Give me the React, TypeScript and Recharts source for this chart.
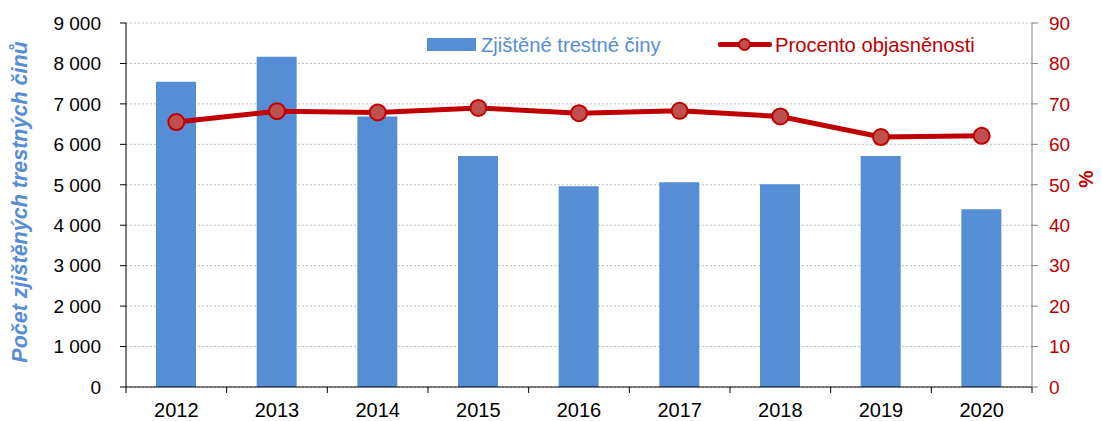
import React from 'react';
import { ComposedChart, Bar, Line, XAxis, YAxis, CartesianGrid } from 'recharts';

const years = ['2012', '2013', '2014', '2015', '2016', '2017', '2018', '2019', '2020'];
const crimes = [7550, 8165, 6690, 5710, 4965, 5060, 5010, 5710, 4395];
const clearance = [65.5, 68.2, 67.9, 69.0, 67.7, 68.3, 66.9, 61.8, 62.1];
const leftTicks = [0, 1000, 2000, 3000, 4000, 5000, 6000, 7000, 8000, 9000];
const rightTicks = [0, 10, 20, 30, 40, 50, 60, 70, 80, 90];
const barName = 'Zjištěné trestné činy';
const lineName = 'Procento objasněnosti';
const leftLabel = 'Počet zjištěných trestných činů';
const rightLabel = '%';

const data = years.map((y, i) => ({ year: y, crimes: crimes[i], pct: clearance[i] }));

const W = 1094;
const H = 413;
const LEFT_W = 118;
const RIGHT_W = 70;
const FONT = '"Liberation Sans", Arial, sans-serif';
const BLUE = '#558ED5';
const RED = '#C00000';
const half = (W - LEFT_W - RIGHT_W) / years.length / 2;

const fmt = (v: number) => (v === 0 ? '0' : `${Math.floor(v / 1000)} ${String(v % 1000).padStart(3, '0')}`);

const XTick = (props: any) => {
  const { x, y, payload, index } = props;
  const axisY = y - 16;
  return (
    <g>
      <line x1={x - half} x2={x - half} y1={axisY} y2={axisY + 6} stroke="#000" />
      {index === years.length - 1 && (
        <line x1={x + half} x2={x + half} y1={axisY} y2={axisY + 6} stroke="#000" />
      )}
      <text x={x} y={y} dy="0.71em" textAnchor="middle" fontSize={20} fontFamily={FONT} fill="#000">
        {payload.value}
      </text>
    </g>
  );
};

const LegendOverlay = () => (
  <div style={{ position: 'absolute', left: 0, top: 0, width: W, height: 60, fontFamily: FONT, fontSize: 20.2, pointerEvents: 'none' }}>
    <div style={{ position: 'absolute', left: 419, top: 30, width: 49, height: 13, background: BLUE }} />
    <div style={{ position: 'absolute', left: 473, top: 25, color: BLUE, whiteSpace: 'nowrap', lineHeight: '24px' }}>{barName}</div>
    <div style={{ position: 'absolute', left: 710, top: 34, width: 54, height: 5, background: RED, borderRadius: 2 }} />
    <div style={{ position: 'absolute', left: 730, top: 30, width: 13, height: 13, borderRadius: 8, background: '#C0504D', border: `2px solid ${RED}`, boxSizing: 'border-box' }} />
    <div style={{ position: 'absolute', left: 767, top: 25, color: RED, whiteSpace: 'nowrap', lineHeight: '24px' }}>{lineName}</div>
  </div>
);

const LeftLabel = (props: any) => {
  const { viewBox } = props;
  const cx = viewBox.x + 12;
  const cy = viewBox.y + viewBox.height / 2 - 3;
  return (
    <text x={cx} y={cy} transform={`rotate(-90 ${cx} ${cy})`} textAnchor="middle" dominantBaseline="central"
      fontSize={21.5} fontWeight="bold" fontStyle="italic" fontFamily={FONT} fill={BLUE}>
      {leftLabel}
    </text>
  );
};

const RightLabel = (props: any) => {
  const { viewBox } = props;
  const cx = viewBox.x + 54;
  const cy = viewBox.y + viewBox.height / 2 - 26;
  return (
    <text x={cx} y={cy} transform={`rotate(-90 ${cx} ${cy})`} textAnchor="middle" dominantBaseline="central"
      fontSize={19.5} fontWeight="bold" fontFamily={FONT} fill={RED}>
      {rightLabel}
    </text>
  );
};

export default function App() {
  return (
    <div style={{ position: 'relative', width: W, height: H }}>
      <ComposedChart width={W} height={H} data={data} margin={{ top: 15, right: 0, bottom: 0, left: 0 }} barCategoryGap="60%">
        <CartesianGrid horizontal vertical={false} stroke="#BFBFBF" strokeDasharray="2 2" yAxisId="left" />
        <XAxis dataKey="year" height={34} axisLine={{ stroke: '#000' }} tickLine={false} tick={<XTick />} tickMargin={10} interval={0} />
        <YAxis yAxisId="left" domain={[0, 9000]} ticks={leftTicks} width={LEFT_W} tickFormatter={fmt}
          axisLine={{ stroke: '#000' }} tickLine={{ stroke: '#000' }} tickSize={6} tickMargin={19}
          tick={{ fontSize: 19, fill: '#000', fontFamily: FONT }} interval={0} label={<LeftLabel />} />
        <YAxis yAxisId="right" orientation="right" domain={[0, 90]} ticks={rightTicks} width={RIGHT_W}
          axisLine={{ stroke: '#7F7F7F' }} tickLine={{ stroke: '#7F7F7F' }} tickSize={6} tickMargin={11}
          tick={{ fontSize: 19, fill: RED, fontFamily: FONT, textAnchor: 'start' }} interval={0} label={<RightLabel />} />
        <Bar yAxisId="left" dataKey="crimes" name={barName} fill={BLUE} barSize={40} isAnimationActive={false} />
        <Line yAxisId="right" dataKey="pct" name={lineName} stroke={RED} strokeWidth={5}
          dot={{ r: 8, fill: '#C0504D', stroke: RED, strokeWidth: 2 }} activeDot={false} isAnimationActive={false} />
      </ComposedChart>
      <LegendOverlay />
    </div>
  );
}
